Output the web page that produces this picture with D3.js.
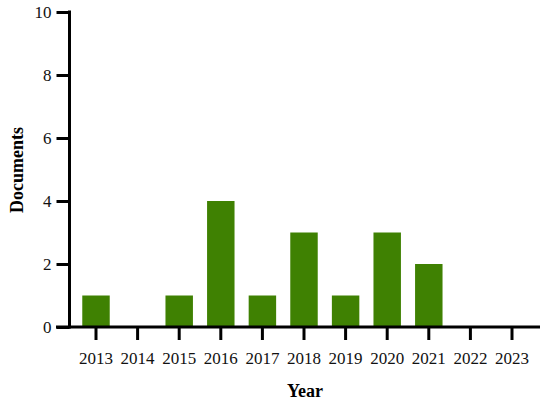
<!DOCTYPE html>
<html>
<head>
<meta charset="utf-8">
<script src="https://cdn.jsdelivr.net/npm/d3@7"></script>
<style>
  body { margin: 0; background: #fff; }
  text { font-family: "Liberation Serif", "DejaVu Serif", serif; }
</style>
</head>
<body>
<div id="chart"></div>
<script>
// data
var years = ["2013", "2014", "2015", "2016", "2017", "2018", "2019", "2020", "2021", "2022", "2023"];
var documents = [1, 0, 1, 4, 1, 3, 1, 3, 2, 0, 0];
var yTicks = [0, 2, 4, 6, 8, 10];

var svgWidth = 550;
var svgHeight = 405;

var svg = d3.select("#chart")
  .append("svg")
  .attr("width", svgWidth)
  .attr("height", svgHeight);

// scales
var xScale = d3.scaleBand()
  .domain(years)
  .range([75.2, 532.8])
  .paddingInner(0.34)
  .paddingOuter(0.17);

var yScale = d3.scaleLinear()
  .domain([0, 10])
  .range([327, 12]);

// bars
svg.selectAll("rect.bar")
  .data(years.map((y, i) => ({ year: y, value: documents[i] })))
  .enter()
  .append("rect")
  .attr("class", "bar")
  .attr("x", d => xScale(d.year))
  .attr("y", d => yScale(d.value))
  .attr("width", xScale.bandwidth())
  .attr("height", d => yScale(0) - yScale(d.value))
  .attr("fill", "#3f8102");

// y axis
var leftAxis = d3.axisLeft(yScale)
  .tickValues(yTicks)
  .tickSize(13)
  .tickPadding(5)
  .tickSizeOuter(0);

var yAxis = svg.append("g")
  .attr("transform", "translate(69.5, 0)")
  .call(leftAxis);

// x axis
var bottomAxis = d3.axisBottom(xScale)
  .tickSize(13)
  .tickPadding(12)
  .tickSizeOuter(0);

var xAxis = svg.append("g")
  .attr("transform", "translate(0, 327)")
  .call(bottomAxis);

// x axis line runs from the y tick to past the last year
xAxis.select(".domain").attr("d", "M56,0H540");
yAxis.select(".domain").attr("d", "M0,-1.5V" + (327 - 12 + 1.5)).attr("transform", "translate(0,12)");

[xAxis, yAxis].forEach(function(ax) {
  ax.selectAll("path, line")
    .attr("stroke", "#000")
    .attr("stroke-width", 3);
  ax.selectAll("text")
    .attr("font-size", "17px")
    .attr("fill", "#111")
    .style("font-family", "'Liberation Serif', serif");
});

// axis titles
svg.append("text")
  .attr("x", 305)
  .attr("y", 397)
  .attr("text-anchor", "middle")
  .attr("font-weight", "bold")
  .attr("font-size", "18px")
  .text("Year");

svg.append("text")
  .attr("transform", "translate(23, 170) rotate(-90)")
  .attr("text-anchor", "middle")
  .attr("font-weight", "bold")
  .attr("font-size", "18px")
  .text("Documents");
</script>
</body>
</html>
